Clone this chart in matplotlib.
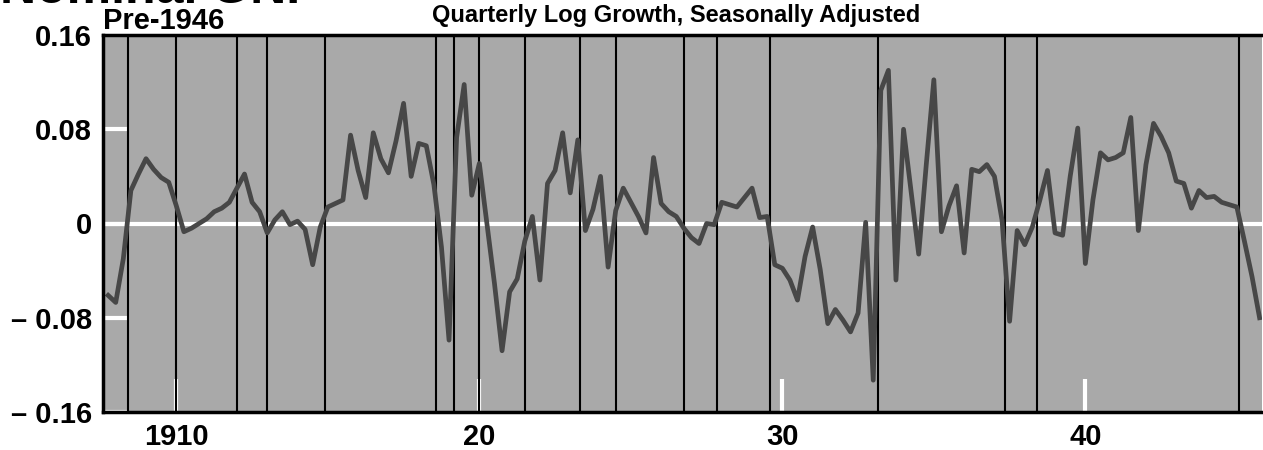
import numpy as np
import matplotlib
matplotlib.use("Agg")
import matplotlib.pyplot as plt

plt.rcParams['font.family'] = ['Liberation Sans', 'DejaVu Sans']

# quarterly log growth, seasonally adjusted; first value is 1907Q4, one row per year
start_year = 1907.75
growth = [
    -0.061,                              # 1907
    -0.067, -0.030, 0.028, 0.042,        # 1908
    0.055, 0.046, 0.039, 0.035,          # 1909
    0.015, -0.007, -0.004, 0.000,        # 1910
    0.004, 0.010, 0.013, 0.018,          # 1911
    0.030, 0.042, 0.018, 0.010,          # 1912
    -0.008, 0.003, 0.010, -0.001,        # 1913
    0.002, -0.005, -0.035, -0.003,       # 1914
    0.014, 0.017, 0.020, 0.075,          # 1915
    0.045, 0.022, 0.077, 0.055,          # 1916
    0.043, 0.070, 0.102, 0.040,          # 1917
    0.068, 0.066, 0.033, -0.020,         # 1918
    -0.099, 0.073, 0.118, 0.024,         # 1919
    0.051, 0.000, -0.051, -0.108,        # 1920
    -0.058, -0.047, -0.015, 0.006,       # 1921
    -0.048, 0.034, 0.045, 0.077,         # 1922
    0.026, 0.071, -0.006, 0.012,         # 1923
    0.040, -0.037, 0.011, 0.030,         # 1924
    0.018, 0.006, -0.008, 0.056,         # 1925
    0.017, 0.010, 0.006, -0.004,         # 1926
    -0.012, -0.017, 0.000, -0.001,       # 1927
    0.018, 0.016, 0.014, 0.022,          # 1928
    0.030, 0.005, 0.006, -0.035,         # 1929
    -0.038, -0.048, -0.065, -0.028,      # 1930
    -0.003, -0.039, -0.085, -0.073,      # 1931
    -0.082, -0.092, -0.076, 0.001,       # 1932
    -0.133, 0.113, 0.130, -0.048,        # 1933
    0.080, 0.027, -0.026, 0.050,         # 1934
    0.122, -0.007, 0.015, 0.032,         # 1935
    -0.025, 0.046, 0.044, 0.050,         # 1936
    0.040, 0.003, -0.083, -0.006,        # 1937
    -0.018, -0.003, 0.020, 0.045,        # 1938
    -0.008, -0.010, 0.040, 0.081,        # 1939
    -0.034, 0.020, 0.060, 0.054,         # 1940
    0.056, 0.060, 0.090, -0.006,         # 1941
    0.050, 0.085, 0.074, 0.060,          # 1942
    0.036, 0.034, 0.013, 0.028,          # 1943
    0.022, 0.023, 0.018, 0.016,          # 1944
    0.014, -0.015, -0.045, -0.080,       # 1945
]

# business cycle peaks and troughs (year, month)
turning_points = [(1908, 6), (1910, 1), (1912, 1), (1913, 1), (1914, 12),
                  (1918, 8), (1919, 3), (1920, 1), (1921, 7), (1923, 5),
                  (1924, 7), (1926, 10), (1927, 11), (1929, 8), (1933, 3),
                  (1937, 5), (1938, 6), (1945, 2)]

x_ticks = [1910, 1920, 1930, 1940]
x_labels = ["1910", "20", "30", "40"]
y_ticks = [0.16, 0.08, 0, -0.08, -0.16]
y_labels = ["0.16", "0.08", "0", "\u2013 0.08", "\u2013 0.16"]

t = start_year + 0.25 * np.arange(len(growth))

fig = plt.figure(figsize=(12.63, 4.5), dpi=100)
ax = fig.add_axes([103 / 1263, 38 / 450, 1 - 104 / 1263, 377 / 450])
ax.set_facecolor('#a9a9a9')

ax.axhline(0, color='white', lw=3, zorder=1)
for y, m in turning_points:
    ax.axvline(y + (m - 1) / 12, color='black', lw=1.5, zorder=2)
ax.plot(t, growth, color='#474747', lw=3.4, solid_joinstyle='round', zorder=3)

ax.set_xlim(1907.58, 1945.83)
ax.set_ylim(-0.16, 0.16)

ax.set_xticks(x_ticks)
ax.set_xticklabels(x_labels, fontsize=21, fontweight='bold')
ax.set_yticks(y_ticks)
ax.set_yticklabels(y_labels, fontsize=21, fontweight='bold')
ax.tick_params(axis='x', direction='in', length=24, width=3, color='white', pad=8)
ax.tick_params(axis='y', direction='in', length=17, width=3, color='white', pad=8)

for side in ['left', 'top', 'bottom']:
    ax.spines[side].set_linewidth(2.5)
    ax.spines[side].set_color('black')
    ax.spines[side].set_zorder(4)
ax.spines['right'].set_visible(False)

# big heading, mostly cut off by the top edge as in the scan
fig.text(0.0, 1 - 3 / 450, "Nominal GNP", fontsize=36, fontweight='bold', va='baseline')
fig.text(103 / 1263, 1 - 29 / 450, "Pre-1946", fontsize=21, fontweight='bold', va='baseline')
fig.text(676 / 1263, 1 - 22 / 450, "Quarterly Log Growth, Seasonally Adjusted",
         fontsize=17, fontweight='bold', va='baseline', ha='center')

fig.savefig("out.png", dpi=100)
